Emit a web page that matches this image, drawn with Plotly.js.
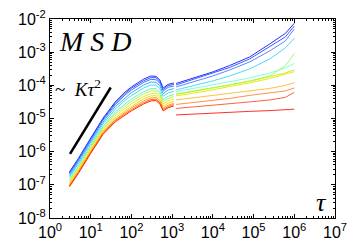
<!DOCTYPE html>
<html><head><meta charset="utf-8">
<script src="https://cdn.plot.ly/plotly-3.0.1.min.js"></script>
<style>html,body{margin:0;padding:0;background:#fff}#chart{width:353px;height:248px}</style>
</head><body><div id="chart"></div>
<script>
// ---- early-time curves (tau 3 .. ~1e3) ----
const tauEarly = [3, 5, 10, 20, 40, 70, 100, 200, 300, 400, 500, 600, 800, 1100];
const msdEarly0  = [2.45e-7, 6.31e-7, 2.57e-6, 1.02e-5, 3.16e-5, 6.31e-5, 8.91e-5, 1.55e-4, 1.91e-4, 1.86e-4, 1.45e-4, 8.32e-5, 1.07e-4, 1.18e-4];
const msdEarly1  = [2.29e-7, 5.89e-7, 2.40e-6, 9.55e-6, 2.88e-5, 5.75e-5, 8.13e-5, 1.38e-4, 1.70e-4, 1.70e-4, 1.32e-4, 7.59e-5, 9.77e-5, 1.07e-4];
const msdEarly2  = [2.14e-7, 5.50e-7, 2.24e-6, 8.91e-6, 2.63e-5, 5.13e-5, 7.24e-5, 1.23e-4, 1.51e-4, 1.48e-4, 1.18e-4, 6.76e-5, 8.71e-5, 9.55e-5];
const msdEarly3  = [1.91e-7, 4.90e-7, 2.00e-6, 7.76e-6, 2.29e-5, 4.27e-5, 6.03e-5, 1.02e-4, 1.26e-4, 1.23e-4, 9.77e-5, 5.62e-5, 7.24e-5, 7.94e-5];
const msdEarly4  = [1.70e-7, 4.37e-7, 1.74e-6, 6.76e-6, 1.91e-5, 3.55e-5, 4.90e-5, 8.32e-5, 1.02e-4, 1.02e-4, 7.94e-5, 4.68e-5, 5.89e-5, 6.61e-5];
const msdEarly5  = [1.45e-7, 3.72e-7, 1.51e-6, 5.75e-6, 1.58e-5, 2.82e-5, 3.89e-5, 6.46e-5, 7.94e-5, 7.94e-5, 6.31e-5, 3.72e-5, 4.68e-5, 5.25e-5];
const msdEarly6  = [1.32e-7, 3.39e-7, 1.35e-6, 5.25e-6, 1.38e-5, 2.45e-5, 3.31e-5, 5.50e-5, 6.76e-5, 6.76e-5, 5.37e-5, 3.24e-5, 3.98e-5, 4.57e-5];
const msdEarly7  = [1.18e-7, 3.02e-7, 1.23e-6, 4.68e-6, 1.20e-5, 2.09e-5, 2.82e-5, 4.57e-5, 5.62e-5, 5.75e-5, 4.57e-5, 2.75e-5, 3.39e-5, 3.89e-5];
const msdEarly8  = [1.07e-7, 2.75e-7, 1.10e-6, 4.17e-6, 1.05e-5, 1.78e-5, 2.34e-5, 3.89e-5, 4.79e-5, 4.90e-5, 3.80e-5, 2.34e-5, 2.88e-5, 3.31e-5];
const msdEarly9  = [9.77e-8, 2.51e-7, 1.00e-6, 3.80e-6, 9.33e-6, 1.55e-5, 2.09e-5, 3.39e-5, 4.17e-5, 4.27e-5, 3.39e-5, 2.04e-5, 2.51e-5, 2.88e-5];
const msdEarly10 = [9.33e-8, 2.40e-7, 9.55e-7, 3.55e-6, 8.71e-6, 1.41e-5, 1.86e-5, 3.02e-5, 3.72e-5, 3.80e-5, 3.02e-5, 1.86e-5, 2.29e-5, 2.63e-5];
const msdEarly11 = [8.71e-8, 2.24e-7, 8.91e-7, 3.31e-6, 7.94e-6, 1.29e-5, 1.70e-5, 2.75e-5, 3.39e-5, 3.47e-5, 2.75e-5, 1.70e-5, 2.09e-5, 2.40e-5];
const earlySeries = [msdEarly0, msdEarly1, msdEarly2, msdEarly3, msdEarly4, msdEarly5, msdEarly6, msdEarly7, msdEarly8, msdEarly9, msdEarly10, msdEarly11];
const earlyColors = ["#2a2aff","#3350ff","#4078ff","#40a8ff","#48d8f0","#70f0b8","#a8f860","#d8f020","#ffd020","#ffa020","#ff6a10","#ff2a00"];

// ---- long-time curves (tau ~1e3 .. 1e6) ----
const tauLate = [1250, 1e4, 2.6e4, 8e4, 2.5e5, 6e5, 1e6];
const msdLate0  = [1.14e-4, 2.54e-4, 3.97e-4, 7.16e-4, 1.77e-3, 3.66e-3, 7.41e-3];
const msdLate1  = [1.03e-4, 2.28e-4, 3.46e-4, 6.24e-4, 1.44e-3, 2.87e-3, 6.15e-3];
const msdLate2  = [8.95e-5, 1.92e-4, 2.91e-4, 5.07e-4, 1.09e-3, 2.17e-3, 5.00e-3];
const msdLate3  = [7.26e-5, 1.36e-4, 1.92e-4, 3.12e-4, 6.24e-4, 1.34e-3, 2.62e-3];
const msdLate4  = [6.46e-5, 1.03e-4, 1.26e-4, 1.67e-4, 2.36e-4, 3.34e-4, 4.57e-4];
const msdLate5  = [5.51e-5, 8.35e-5, 1.03e-4, 1.36e-4, 1.92e-4, 3.84e-4, 9.14e-4];
const msdLate6  = [5.32e-5, 8.07e-5, 1.03e-4, 1.31e-4, 1.79e-4, 2.36e-4, 2.91e-4];
const msdLate7  = [4.80e-5, 7.26e-5, 9.27e-5, 1.18e-4, 1.61e-4, 2.13e-4, 2.59e-4];
const msdLate8  = [3.63e-5, 4.97e-5, 5.70e-5, 6.78e-5, 8.07e-5, 9.93e-5, 1.21e-4];
const msdLate9  = [2.66e-5, 3.51e-5, 4.03e-5, 4.97e-5, 5.90e-5, 6.78e-5, 8.35e-5];
const msdLate10 = [2.01e-5, 2.48e-5, 2.75e-5, 3.16e-5, 3.63e-5, 4.33e-5, 6.11e-5];
const msdLate11 = [1.28e-5, 1.48e-5, 1.55e-5, 1.64e-5, 1.73e-5, 1.82e-5, 1.91e-5];
const lateSeries = [msdLate0, msdLate1, msdLate2, msdLate3, msdLate4, msdLate5, msdLate6, msdLate7, msdLate8, msdLate9, msdLate10, msdLate11];
const lateColors = ["#2a2aff","#3a5cff","#5a88ff","#50d8ff","#80ffd8","#98ff70","#c8f020","#e8e820","#ffc040","#ff9040","#ff6040","#ff3030"];

// ---- guide line ~ K tau^2 ----
const guideTau = [3.1, 31];
const guideMsd = [8.6e-7, 8.6e-5];

// ---- tick labels ----
const xTickVals = [1, 10, 100, 1e3, 1e4, 1e5, 1e6, 1e7];
const xTickText = ["10<sup>0</sup>","10<sup>1</sup>","10<sup>2</sup>","10<sup>3</sup>","10<sup>4</sup>","10<sup>5</sup>","10<sup>6</sup>","10<sup>7</sup>"];
const yTickVals = [1e-8, 1e-7, 1e-6, 1e-5, 1e-4, 1e-3, 1e-2];
const yTickText = ["10<sup>-8</sup>","10<sup>-7</sup>","10<sup>-6</sup>","10<sup>-5</sup>","10<sup>-4</sup>","10<sup>-3</sup>","10<sup>-2</sup>"];

const traces = [];
earlySeries.forEach((s, i) => traces.push({x: tauEarly, y: s, type: 'scatter', mode: 'lines',
  line: {color: earlyColors[i], width: 1}, hoverinfo: 'skip', showlegend: false}));
lateSeries.forEach((s, i) => traces.push({x: tauLate, y: s, type: 'scatter', mode: 'lines',
  line: {color: lateColors[i], width: 1}, hoverinfo: 'skip', showlegend: false}));
traces.push({x: guideTau, y: guideMsd, type: 'scatter', mode: 'lines',
  line: {color: '#000', width: 2.5}, hoverinfo: 'skip', showlegend: false});

function minorVals(d0, d1) { const v = []; for (let d = d0; d < d1; d++) for (let m = 2; m <= 9; m++) v.push(m * Math.pow(10, d)); return v; }

const axisCommon = {
  showgrid: false, zeroline: false, showline: true, linecolor: '#000', linewidth: 1,
  mirror: 'ticks', ticks: 'inside', ticklen: 4, tickcolor: '#000', tickwidth: 1,
  tickfont: {family: 'Liberation Sans, Arial, sans-serif', size: 16, color: '#000'},
  tickmode: 'array'
};

const layout = {
  width: 353, height: 248,
  margin: {l: 50, r: 18, t: 19, b: 30, pad: 0},
  paper_bgcolor: '#fff', plot_bgcolor: '#fff',
  showlegend: false,
  xaxis: Object.assign({}, axisCommon, {type: 'log', range: [0, 7], tickvals: xTickVals, ticktext: xTickText,
    minor: {tickmode: 'array', tickvals: minorVals(0, 7), ticks: 'inside', ticklen: 2, tickcolor: '#000', showgrid: false}}),
  yaxis: Object.assign({}, axisCommon, {type: 'log', range: [-8, -2], tickvals: yTickVals, ticktext: yTickText,
    minor: {tickmode: 'array', tickvals: minorVals(-8, -2), ticks: 'inside', ticklen: 2, tickcolor: '#000', showgrid: false}}),
  annotations: [
    {xref: 'paper', yref: 'paper', x: 0.025, y: 0.885, xanchor: 'left', yanchor: 'middle', showarrow: false,
     text: '<i>M S D</i>', font: {family: 'Liberation Serif, Times New Roman, serif', size: 28, color: '#000'}},
    {xref: 'paper', yref: 'paper', x: 0.954, y: 0.08, xanchor: 'center', yanchor: 'middle', showarrow: false,
     text: '<i>τ</i>', font: {family: 'Liberation Serif, Times New Roman, serif', size: 26, color: '#000'}},
    {xref: 'paper', yref: 'paper', x: 0.012, y: 0.655, xanchor: 'left', yanchor: 'middle', showarrow: false,
     text: '~&nbsp;&nbsp;<i>Kτ</i><sup>2</sup>', font: {family: 'Liberation Serif, Times New Roman, serif', size: 19, color: '#000'}}
  ]
};

Plotly.newPlot('chart', traces, layout, {staticPlot: true, displayModeBar: false});
</script>
</body></html>
